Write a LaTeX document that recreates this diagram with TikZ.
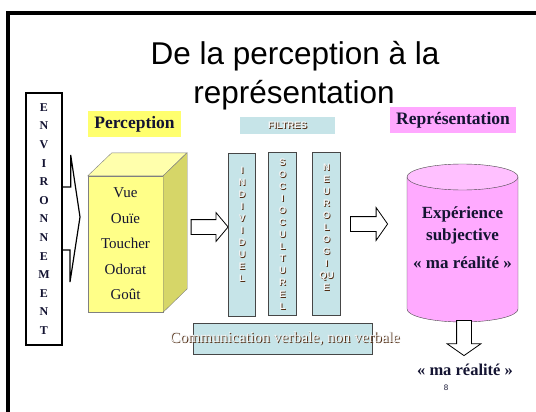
\documentclass[tikz,border=0pt]{standalone}
\usepackage{fontspec}
\setmainfont{Liberation Serif}
\newfontfamily\arial{Liberation Sans}
\usepackage{xcolor}
\usetikzlibrary{positioning,shapes.arrows,calc}

\definecolor{cubefront}{RGB}{255,255,136}
\definecolor{cubetop}{RGB}{255,255,172}
\definecolor{cubeside}{RGB}{214,214,104}
\definecolor{jaune}{RGB}{255,255,110}
\definecolor{filtblue}{RGB}{198,228,232}
\definecolor{rose}{RGB}{255,168,255}
\definecolor{cylbody}{RGB}{255,170,255}
\definecolor{cyltop}{RGB}{255,192,255}
\definecolor{edgegray}{RGB}{70,70,70}
\definecolor{navytxt}{RGB}{20,20,50}
\definecolor{ombrec}{RGB}{80,45,20}
\definecolor{clair}{RGB}{245,245,245}

\newcommand{\ombre}[1]{\makebox[0pt][l]{\hspace{0.9pt}\raisebox{-0.9pt}{\textcolor{ombrec}{#1}}}\textcolor{clair}{#1}}
\newcommand{\pile}[1]{\begin{tabular}{@{}c@{}}#1\end{tabular}}

\begin{document}
\begin{tikzpicture}[x=1pt, y=-1pt,
    lbl/.style={minimum height=26pt, inner sep=0pt, text=navytxt,
      font=\fontsize{17.5}{20}\selectfont\bfseries},
    filtre/.style={draw=edgegray, line width=0.9pt, fill=filtblue,
      minimum width=27.5pt, minimum height=163pt, inner sep=0pt},
    filtxt/.style={inner sep=0pt, font=\arial\bfseries\fontsize{9.5}{12}\selectfont},
    bloc/.style={single arrow, draw=black, fill=white, line width=0.8pt,
      inner sep=0pt, text width=0pt, text height=14pt, text depth=0pt,
      minimum height=37pt, single arrow head extend=7pt, single arrow tip angle=100}]

    \useasboundingbox (0,0) rectangle (536,412);
    \fill[white] (0,0) rectangle (536,412);
    \draw[line width=4pt] (8,13.3) rectangle (560,430);

    \node[font=\arial\fontsize{31.5}{37}\selectfont, anchor=base] (titre1) at (295,65) {De la perception à la};
    \node[font=\arial\fontsize{31.5}{37}\selectfont, anchor=base] (titre2) at (294,103) {représentation};

    \node[draw, line width=1.4pt, minimum width=36pt, minimum height=252pt, inner sep=0pt,
      align=center, text=navytxt, font=\fontsize{12}{18.6}\selectfont\bfseries]
      (env) at (44,219) {E\\N\\V\\I\\R\\O\\N\\N\\E\\M\\E\\N\\T};
    \coordinate (pointe) at (80,217);
    \draw[line width=1.2pt, line join=miter]
      ([yshift=32pt]env.east) -- ++(8,0) -- ++(0,-32) -- (pointe)
      -- (70,282) -- (70,250) -- ([yshift=-31pt]env.east);

    \node[lbl, fill=jaune, minimum width=93pt] (perc) at (134.5,124) {Perception};

    \node[draw=gray, fill=cubefront, minimum width=75pt, minimum height=136pt, inner sep=0pt,
      align=center, font=\fontsize{15}{25.5}\selectfont, text=navytxt]
      (sens) at (125.5,244) {Vue\\Ouïe\\Toucher\\Odorat\\Goût};
    \draw[draw=gray, fill=cubetop] (sens.north west) -- ++(24,-23) -- ++(75,0) -- (sens.north east) -- cycle;
    \draw[draw=gray, fill=cubeside] (sens.north east) -- ++(24,-23) -- ++(0,136) -- (sens.south east) -- cycle;

    \node[bloc] (a1) at (206.5,227) {};

    \node[fill=filtblue, minimum width=95pt, minimum height=17pt, inner sep=0pt,
      font=\arial\bfseries\fontsize{9.5}{11}\selectfont] (filt) at (287.5,125.5) {\ombre{FILTRES}};

    \node[filtre] (b1) at (242,234.5) {};
    \node[filtre] (b2) at (282.5,234) {};
    \node[filtre] (b3) at (326.5,234) {};
    \node[filtxt, below=12pt of b1.north] (t1) {\ombre{\pile{I\\N\\D\\I\\V\\I\\D\\U\\E\\L}}};
    \node[filtxt, below=5pt of b2.north] (t2) {\ombre{\pile{S\\O\\C\\I\\O\\C\\U\\L\\T\\U\\R\\E\\L}}};
    \node[filtxt, below=10pt of b3.north] (t3) {\ombre{\pile{N\\E\\U\\R\\O\\L\\O\\G\\I\\QU\\E}}};

    \node[draw=edgegray, line width=0.9pt, fill=filtblue, minimum width=179pt, minimum height=31pt,
      inner sep=0pt] (comm) at (282.5,338.5) {};
    \node[font=\fontsize{15.5}{18}\selectfont] (commtxt) at (285,339) {\ombre{Communication verbale, non verbale}};

    \node[bloc, single arrow head extend=9pt, single arrow tip angle=110] (a2) at (366.5,224) {};

    \node[lbl, fill=rose, minimum width=126pt] (repr) at (453,120) {Représentation};

    \coordinate (cyl) at (462.5,177);
    \draw[draw=edgegray, fill=cylbody] ($(cyl)+(-55.5,0)$) -- ++(0,132)
      arc[start angle=180, end angle=360, x radius=55.5pt, y radius=13pt]
      -- ($(cyl)+(55.5,0)$) -- cycle;
    \draw[draw=edgegray, fill=cyltop] (cyl) ellipse[x radius=55.5pt, y radius=13pt];
    \node[align=center, text=navytxt, font=\fontsize{17}{22}\selectfont\bfseries]
      (exp) at (462.5,238) {Expérience\\subjective\\[6pt]« ma réalité »};

    \node[bloc, rotate=-90, minimum height=35pt, single arrow head extend=9.5pt,
      single arrow tip angle=110] (a3) at (464,335.5) {};
    \node[text=navytxt, font=\fontsize{16.5}{20}\selectfont\bfseries] (reel) at (465,370) {« ma réalité »};
    \node[text=navytxt, font=\arial\fontsize{8}{10}\selectfont] (page) at (446,388) {8};

\end{tikzpicture}
\end{document}
